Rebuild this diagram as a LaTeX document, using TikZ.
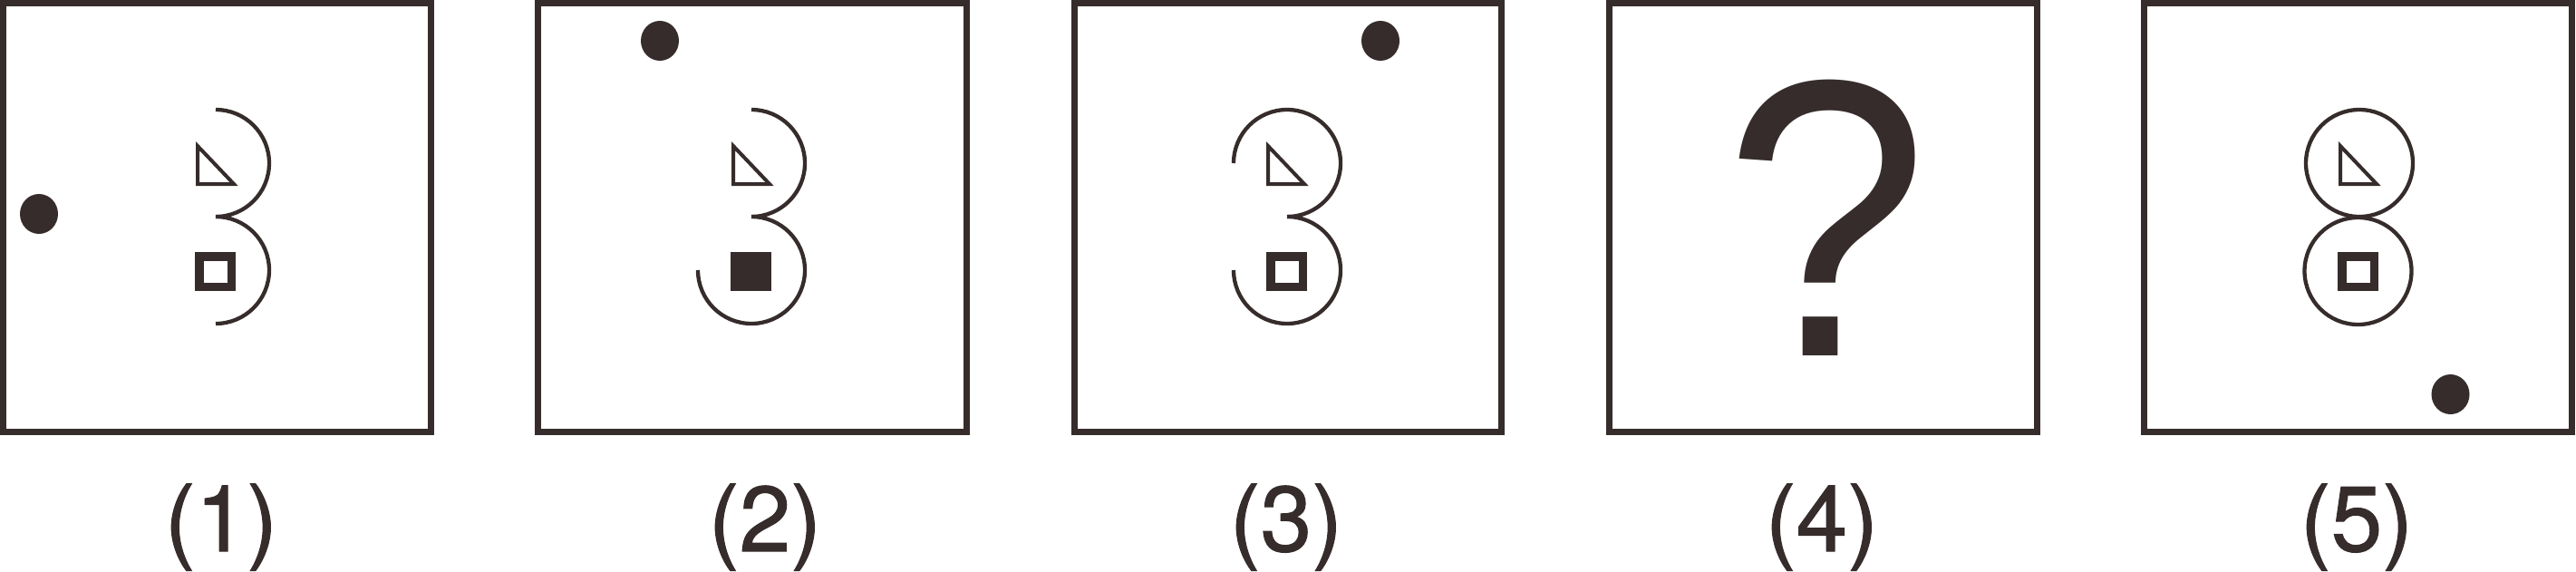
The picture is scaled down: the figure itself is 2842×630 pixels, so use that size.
\documentclass[tikz,border=0pt]{standalone}
\usepackage{fontspec}
\setmainfont{Liberation Sans}
\newfontfamily\labelfont[FakeBold=1]{TeX Gyre Heros}
\definecolor{ink}{RGB}{53,44,43}
\begin{document}
\begin{tikzpicture}[x=1pt,y=-1pt,
  frame/.style={draw=ink,line width=7pt},
  curve/.style={draw=ink,line width=4.3pt},
  tri/.style={draw=ink,line width=4pt,line join=miter},
  hollowsq/.style={draw=ink,line width=9.5pt},
  solidsq/.style={fill=ink},
  dot/.style={fill=ink},
  lbl/.style={text=ink,inner sep=0pt,anchor=base,font=\labelfont\fontsize{102pt}{120pt}\selectfont},
  qmark/.style={text=ink,inner sep=0pt,anchor=base,transform shape,xscale=0.93,font=\fontsize{436pt}{480pt}\selectfont}]
\useasboundingbox (0,0) rectangle (2842,630);
\clip (0,0) rectangle (2842,630);

% ---------- panel 1 ----------
\draw[frame] (3.5,3.5) rectangle (475.5,476.5);
\fill[dot] (43,236) ellipse [x radius=21, y radius=22];
\draw[curve] (238,121) arc[start angle=-90,end angle=90,radius=59];
\draw[curve] (238,239) arc[start angle=-90,end angle=90,radius=59];
\draw[tri] (218,161) -- (218,203) -- (258,203) -- cycle;
\draw[hollowsq] (219.75,282.75) rectangle (255.25,316.25);

% ---------- panel 2 ----------
\draw[frame] (593.5,3.5) rectangle (1066.5,476.5);
\fill[dot] (728,45) ellipse [x radius=21, y radius=22];
\draw[curve] (829,121) arc[start angle=-90,end angle=90,radius=59];
\draw[curve] (770,298) arc[start angle=180,end angle=-90,radius=59];
\draw[tri] (809,161) -- (809,203) -- (849,203) -- cycle;
\fill[solidsq] (806,278) rectangle (851,321);

% ---------- panel 3 ----------
\draw[frame] (1185,3.5) rectangle (1656,476.5);
\fill[dot] (1523,45) ellipse [x radius=21, y radius=22];
\draw[curve] (1361,180) arc[start angle=180,end angle=450,radius=59];
\draw[curve] (1361,298) arc[start angle=180,end angle=-90,radius=59];
\draw[tri] (1399,161) -- (1399,203) -- (1439,203) -- cycle;
\draw[hollowsq] (1401.75,282.75) rectangle (1437.25,316.25);

% ---------- panel 4 ----------
\draw[frame] (1775,3.5) rectangle (2247,476.5);
\node[qmark] (q) at (2015,392) {?};

% ---------- panel 5 ----------
\draw[frame] (2365.5,3.5) rectangle (2837.5,476.5);
\draw[curve] (2603,180) circle[radius=59];
\draw[curve] (2601.5,299) circle[radius=59];
\draw[tri] (2582,161) -- (2582,203) -- (2622,203) -- cycle;
\draw[hollowsq] (2583.75,282.75) rectangle (2619.25,316.25);
\fill[dot] (2703.5,435) ellipse [x radius=21, y radius=22];

% ---------- labels ----------
\node[lbl] (l1) at (244,608) {(1)};
\node[lbl] (l2) at (844,608) {(2)};
\node[lbl] (l3) at (1419,608) {(3)};
\node[lbl] (l4) at (2010,608) {(4)};
\node[lbl] (l5) at (2600,608) {(5)};
\end{tikzpicture}
\end{document}
